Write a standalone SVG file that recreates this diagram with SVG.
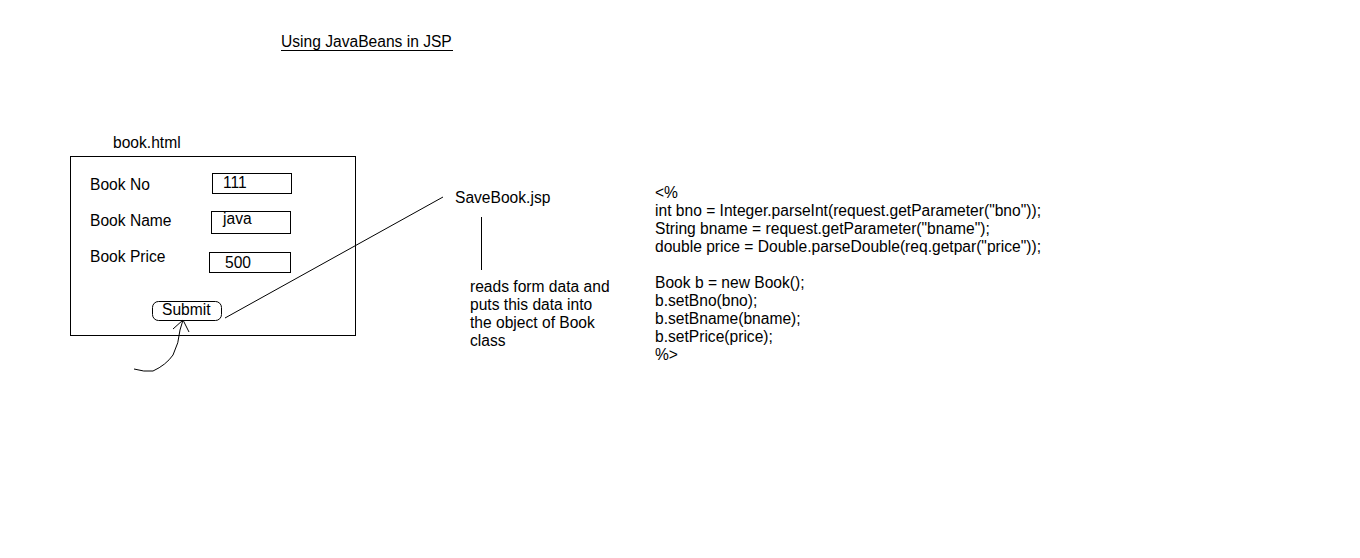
<svg xmlns="http://www.w3.org/2000/svg" width="1360" height="558" viewBox="0 0 1360 558">
<style>
text{font-family:"Liberation Sans",Arial,sans-serif;font-size:15.6px;fill:#000}
.b{fill:none;stroke:#000;stroke-width:1}
</style>
<rect width="1360" height="558" fill="#fff"/>
<g id="title"><text x="281" y="47">Using JavaBeans in JSP</text><line x1="281" y1="50.5" x2="453" y2="50.5" stroke="#000"/></g>
<g id="form">
<text x="113" y="148">book.html</text>
<rect class="b" x="70.5" y="156.5" width="285" height="179"/>
<text x="90" y="190">Book No</text>
<text x="90" y="226">Book Name</text>
<text x="90" y="262">Book Price</text>
<rect class="b" x="212.5" y="173.5" width="79" height="20"/>
<text x="223" y="188">111</text>
<rect class="b" x="211.5" y="211.5" width="79" height="22"/>
<text x="223" y="224">java</text>
<rect class="b" x="209.5" y="252.5" width="81" height="20"/>
<text x="225" y="268">500</text>
</g>
<g id="submit"><rect class="b" x="152.5" y="301.5" width="69" height="19" rx="6"/><text x="162" y="315">Submit</text></g>
<g id="savebook"><text x="455" y="203">SaveBook.jsp</text></g>
<g id="note"><text x="470" y="292">reads form data and</text><text x="470" y="310">puts this data into</text><text x="470" y="328">the object of Book</text><text x="470" y="346">class</text></g>
<g id="code">
<text x="655" y="198">&lt;%</text>
<text x="655" y="216">int bno = Integer.parseInt(request.getParameter("bno"));</text>
<text x="655" y="234">String bname = request.getParameter("bname");</text>
<text x="655" y="252">double price = Double.parseDouble(req.getpar("price"));</text>
<text x="655" y="288">Book b = new Book();</text>
<text x="655" y="306">b.setBno(bno);</text>
<text x="655" y="324">b.setBname(bname);</text>
<text x="655" y="342">b.setPrice(price);</text>
<text x="655" y="360">%&gt;</text>
</g>
<g id="connectors">
<line class="b" x1="225" y1="318" x2="443" y2="197"/>
<line class="b" x1="481.5" y1="217" x2="481.5" y2="270"/>
<path class="b" d="M134 369 Q144 372 153 371 Q166 365 173 355 Q179 343 180 330 L183 320"/>
<path class="b" d="M173 329 L183 320 L189 332"/>
</g>
</svg>
